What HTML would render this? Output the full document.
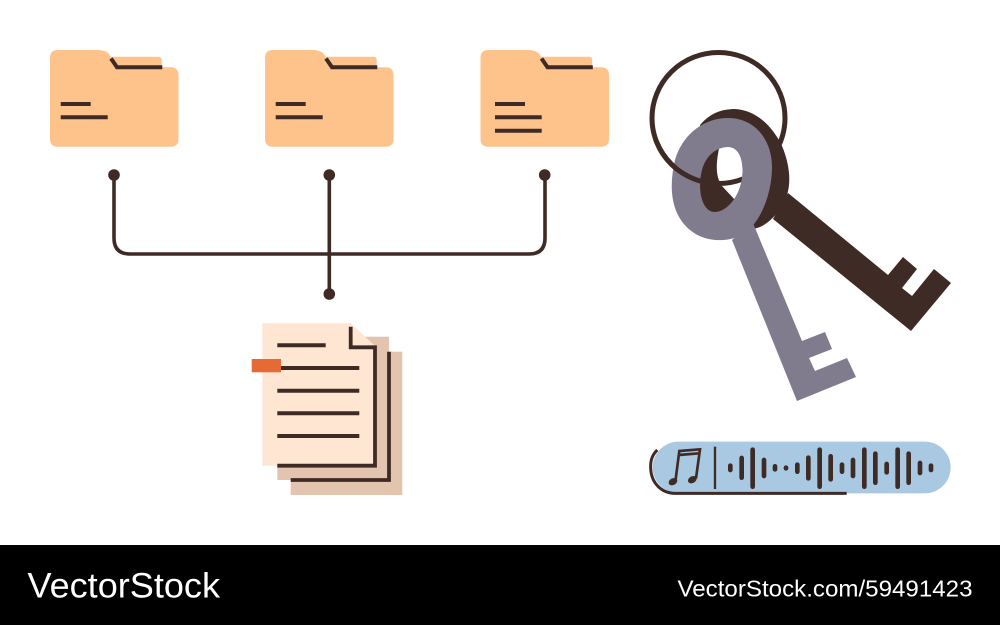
<!DOCTYPE html>
<html><head><meta charset="utf-8"><title>Folders, document, keys and audio</title>
<style>html,body{margin:0;padding:0;background:#fff}svg{display:block}</style></head>
<body>
<svg xmlns="http://www.w3.org/2000/svg" xmlns:xlink="http://www.w3.org/1999/xlink" width="1000" height="625" viewBox="0 0 1000 625">
<defs>
<g id="folderBase">
<path d="M106,56.7H158.5Q161.7,56.7 161.7,60V68H106Z" fill="#fec28b"/>
<path d="M58,50H98Q105,50 109,54L117,67.3H170.5Q178.5,67.3 178.5,75.3V138.7Q178.5,146.7 170.5,146.7H58Q50,146.7 50,138.7V58Q50,50 58,50Z" fill="#fec28b"/>
<path d="M111,58.5L117,67.3H162.3" fill="none" stroke="#3f2b26" stroke-width="4"/>
</g>
<clipPath id="holeClip"><path d="M728,147C717,147 706,155 702,170C697,190 702,212 715,212C727,212 742,195 742.5,172C743,158 738,147 728,147Z"/></clipPath>
<clipPath id="ringLeft"><rect x="650" y="140" width="52" height="60"/></clipPath>
</defs>
<rect width="1000" height="625" fill="#fff"/>

<use xlink:href="#folderBase" href="#folderBase"/>
<use xlink:href="#folderBase" href="#folderBase" transform="translate(215,0)"/>
<use xlink:href="#folderBase" href="#folderBase" transform="translate(430.5,0)"/>
<g fill="none" stroke="#3f2b26" stroke-width="4">
<path d="M60.7,104H90.7M60.7,117.3H107.7"/>
<path d="M275.7,104H305.7M275.7,117.3H322.7"/>
<path d="M495,104H525M495,117.3H541.7M495,130.7H541.7"/>
</g>

<g fill="none" stroke="#3f2b26" stroke-width="3.6">
<path d="M114,175V238Q114,254 130,254H529Q545,254 545,238V175"/>
<path d="M329.3,175V294"/>
</g>
<g fill="#3f2b26">
<circle cx="114" cy="175" r="5.8"/><circle cx="329.3" cy="175" r="5.8"/><circle cx="544.7" cy="175" r="5.8"/><circle cx="329.3" cy="294" r="5.8"/>
</g>

<rect x="290.7" y="351.7" width="111.6" height="143.3" fill="#e3c4ae"/>
<rect x="277.3" y="336.7" width="111.7" height="143.3" fill="#e3c4ae"/>
<path d="M290.7,480H389V351.7" fill="none" stroke="#3f2b26" stroke-width="3.8"/>
<path d="M262.3,323.3H351L375,346V465.7H262.3Z" fill="#ffe6d3"/>
<path d="M350.7,326.7V347.3H375V465.7H277.3" fill="none" stroke="#3f2b26" stroke-width="3.8"/>
<path d="M277.3,345.3H325.7M277.3,368H359.3M277.3,390.7H359.3M277.3,413.3H359.3M277.3,436H359.3" fill="none" stroke="#3f2b26" stroke-width="4"/>
<rect x="251.7" y="359" width="29.3" height="13.3" fill="#e66a35"/>

<ellipse cx="718.5" cy="118" rx="66.5" ry="65.5" fill="none" stroke="#3f2b26" stroke-width="5"/>
<path d="M788,193L888,275L903,257L917,269L902,288L912,296L934,269L951,283L911,331L773,219Z" fill="#3f2b26"/>
<path d="M700,125C710,113 722,109 735,109C755,110 772,125 782,146C790,165 792,185 785,200C778,215 765,228 752,229L720,200Z" fill="#3f2b26"/>
<path d="M753,223L802,341L825,332L832,349L809,358L815,371L847,358L856,377L797,401L732,240Z" fill="#807b8d"/>
<path d="M728,118C705,118 683,133 675,160C668,190 672,215 690,230C705,243 730,243 745,233C760,222 772,195 772,167C772,140 755,118 728,118Z" fill="#807b8d"/>
<path d="M728,147C717,147 706,155 702,170C697,190 702,212 715,212C727,212 742,195 742.5,172C743,158 738,147 728,147Z" fill="#3f2b26"/>
<g clip-path="url(#holeClip)">
<path d="M720,144C715,165 716,178 722,186L736,201H760V140Z" fill="#fff"/>
<ellipse cx="718.5" cy="118" rx="66.5" ry="65.5" fill="none" stroke="#3f2b26" stroke-width="5"/>
</g>
<ellipse cx="718.5" cy="118" rx="66.5" ry="65.5" fill="none" stroke="#3f2b26" stroke-width="5" clip-path="url(#ringLeft)"/>

<g transform="translate(640,430) scale(0.33333)">
<rect x="38" y="35" width="894" height="155" rx="77.5" fill="#a9c8e2"/>
<path d="M52,60Q30,80 32,115C34,160 65,190 105,190H620" fill="none" stroke="#3f2b26" stroke-width="9"/>
<path d="M225,50V177" stroke="#3f2b26" stroke-width="7" fill="none"/>
<g fill="none" stroke="#3f2b26" stroke-width="14" stroke-linecap="round">
<path d="M271,107V120M305,84V143M338,59V170M372,90V138M405,109V118M438,113V115M472,104V125M505,83V145M539,59V170M572,79V148M606,104V125M639,90V138M673,59V170M706,71V158M740,102V127M773,59V170M806,71V158M840,99V129M873,107V120"/>
</g>
<g fill="none" stroke="#3f2b26" stroke-width="8">
<path d="M106,155L118,63L180,58L168,145"/>
<path d="M116,75L178,70"/>
</g>
<ellipse cx="99" cy="155" rx="14" ry="10" transform="rotate(-30 99 155)" fill="#3f2b26"/>
<ellipse cx="157" cy="149" rx="14" ry="10" transform="rotate(-30 157 149)" fill="#3f2b26"/>
</g>

<rect x="0" y="545" width="1000" height="80" fill="#000"/>
<text x="27.5" y="597.3" font-family="'Liberation Sans',sans-serif" font-size="35" fill="#fff" textLength="192.5" lengthAdjust="spacingAndGlyphs">VectorStock</text>
<text x="677.5" y="596.7" font-family="'Liberation Sans',sans-serif" font-size="23" fill="#fff" textLength="295" lengthAdjust="spacingAndGlyphs">VectorStock.com/59491423</text>
</svg>
</body></html>
